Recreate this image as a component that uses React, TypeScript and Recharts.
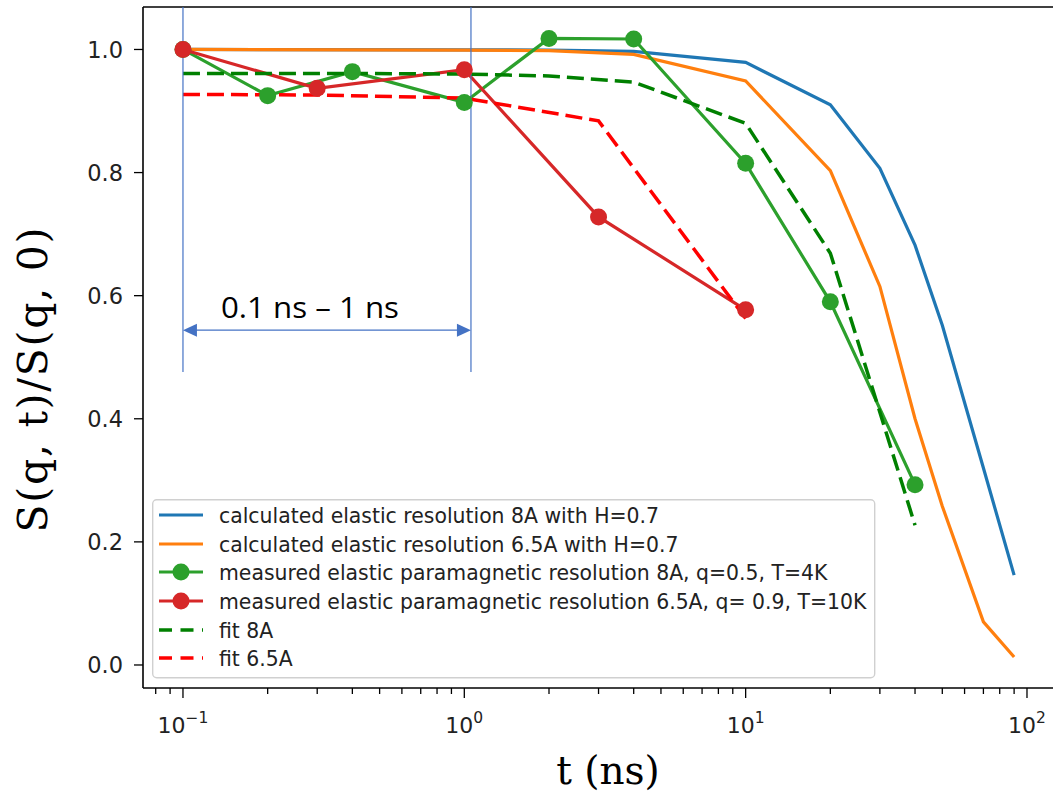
import React from 'react';
import { LineChart, Line, XAxis, YAxis, ReferenceLine, Legend } from 'recharts';

// ---- data ----
const T_CALC = [0.1, 1, 2, 4, 10, 20, 30, 40, 50, 70, 90];
const CALC_8A = [1.0, 0.9995, 0.999, 0.997, 0.979, 0.91, 0.807, 0.682, 0.552, 0.32, 0.146];
const CALC_65A = [1.0, 0.999, 0.998, 0.992, 0.949, 0.803, 0.615, 0.4, 0.258, 0.07, 0.013];

const T_MEAS_8A = [0.1, 0.2, 0.4, 1, 2, 4, 10, 20, 40];
const MEAS_8A = [1.0, 0.925, 0.964, 0.914, 1.018, 1.017, 0.815, 0.59, 0.293];
const FIT_8A = [0.961, 0.961, 0.961, 0.96, 0.957, 0.947, 0.88, 0.669, 0.227];

const T_MEAS_65A = [0.1, 0.3, 1, 3, 10];
const MEAS_65A = [1.0, 0.937, 0.967, 0.728, 0.577];
const FIT_65A = [0.927, 0.926, 0.921, 0.884, 0.563];

const X_DOMAIN = [0.0721, 126.8];
const Y_DOMAIN = [-0.0374, 1.069];
const X_MAJOR = [0.1, 1, 10, 100];
const X_MINOR = [0.08, 0.09, 0.2, 0.3, 0.4, 0.5, 0.6, 0.7, 0.8, 0.9, 2, 3, 4, 5, 6, 7, 8, 9, 20, 30, 40, 50, 60, 70, 80, 90];
const X_EXPONENTS = ['\u22121', '0', '1', '2'];
const Y_TICKS = [0, 0.2, 0.4, 0.6, 0.8, 1.0];
const Y_TICK_LABELS = ['0.0', '0.2', '0.4', '0.6', '0.8', '1.0'];

const SERIES_NAMES = [
  'calculated elastic resolution 8A with H=0.7',
  'calculated elastic resolution 6.5A with H=0.7',
  'measured elastic paramagnetic resolution 8A, q=0.5, T=4K',
  'measured elastic paramagnetic resolution 6.5A, q= 0.9, T=10K',
  'fit 8A',
  'fit 6.5A',
];
const SERIES_COLORS = ['#1f77b4', '#ff7f0e', '#2ca02c', '#d62728', '#008000', '#ff0000'];

// annotation (data coordinates)
const RANGE_START = 0.1;
const RANGE_END = 1.056;
const RANGE_TOP = 1.069;
const RANGE_BOTTOM = 0.476;
const RANGE_ARROW_Y = 0.544;
const RANGE_TEXT = '0.1 ns \u2013 1 ns';

const X_LABEL = 't (ns)';
const Y_LABEL = 'S(q, t)/S(q, 0)';

const toRows = (ts: number[], vs: number[]) => ts.map((t, i) => ({ t, v: vs[i] }));

const series = [
  { data: toRows(T_CALC, CALC_8A), dashed: false, marker: false },
  { data: toRows(T_CALC, CALC_65A), dashed: false, marker: false },
  { data: toRows(T_MEAS_8A, MEAS_8A), dashed: false, marker: true },
  { data: toRows(T_MEAS_65A, MEAS_65A), dashed: false, marker: true },
  { data: toRows(T_MEAS_8A, FIT_8A), dashed: true, marker: false },
  { data: toRows(T_MEAS_65A, FIT_65A), dashed: true, marker: false },
];

const ANNOT = '#4472C4';
const TICK_FONT = 'DejaVu Sans';

const XTick = (props: any) => {
  const { x, y, payload } = props;
  const idx = X_MAJOR.indexOf(payload.value);
  const major = idx >= 0;
  return (
    <g>
      <line x1={x} x2={x} y1={y} y2={y + (major ? 10 : 6)} stroke="#000" strokeWidth={1.3} />
      {major && (
        <text x={x} y={y + 45} textAnchor="middle" fontFamily={TICK_FONT} fontSize={22} fill="#222">
          <tspan>10</tspan>
          <tspan dy={-10} fontSize={15.5}>{X_EXPONENTS[idx]}</tspan>
        </text>
      )}
    </g>
  );
};

const YTick = (props: any) => {
  const { x, y, payload } = props;
  const idx = Y_TICKS.indexOf(payload.value);
  return (
    <g>
      <line x1={x - 9} x2={x} y1={y} y2={y} stroke="#000" strokeWidth={1.3} />
      <text x={x - 20} y={y} dy="0.36em" textAnchor="end" fontFamily={TICK_FONT} fontSize={22.5} fill="#222">
        {Y_TICK_LABELS[idx]}
      </text>
    </g>
  );
};

const ArrowShape = (p: any) => {
  const { x1, y1, x2, y2 } = p;
  const L = 14;
  const W = 6.5;
  return (
    <g>
      <line x1={x1 + L - 1} y1={y1} x2={x2 - L + 1} y2={y2} stroke={ANNOT} strokeWidth={1.3} />
      <polygon points={`${x1},${y1} ${x1 + L},${y1 - W} ${x1 + L},${y1 + W}`} fill={ANNOT} />
      <polygon points={`${x2},${y2} ${x2 - L},${y2 - W} ${x2 - L},${y2 + W}`} fill={ANNOT} />
      <text
        x={(x1 + x2) / 2 - 17}
        y={y1 - 12}
        textAnchor="middle"
        fontFamily="Open Sans"
        fontSize={30}
        textLength={178}
        lengthAdjust="spacingAndGlyphs"
        fill="#000"
      >
        {RANGE_TEXT}
      </text>
    </g>
  );
};

const renderLegend = () => {
  const rowY = [16, 45, 73, 102, 131, 159];
  return (
    <svg width={724} height={180} style={{ display: 'block' }}>
      <rect x={0.7} y={0.7} width={722} height={178} rx={4} ry={4} fill="#fff" fillOpacity={0.85} stroke="#d0d0d0" strokeWidth={1.4} />
      {SERIES_NAMES.map((name, i) => {
        const s = series[i];
        const c = SERIES_COLORS[i];
        const y = rowY[i];
        return (
          <g key={name}>
            {s.dashed ? (
              <line x1={7} x2={51} y1={y} y2={y} stroke={c} strokeWidth={3.5} strokeDasharray="13 8.5" />
            ) : (
              <line x1={7} x2={51} y1={y} y2={y} stroke={c} strokeWidth={3.2} />
            )}
            {s.marker && <circle cx={29} cy={y} r={8.5} fill={c} />}
            <text x={67} y={y + 8} fontFamily={TICK_FONT} fontSize={20.4} fill="#222">
              {name}
            </text>
          </g>
        );
      })}
    </svg>
  );
};

const XLabel = () => (
  <text x={608} y={784} textAnchor="middle" fontFamily="DejaVu Serif" fontSize={39} fill="#000">
    {X_LABEL}
  </text>
);

const YLabel = () => (
  <text
    x={33}
    y={380}
    transform="rotate(-90, 33, 380)"
    textAnchor="middle"
    dominantBaseline="central"
    fontFamily="DejaVu Serif"
    fontSize={41}
    textLength={305}
    lengthAdjust="spacing"
    fill="#000"
  >
    {Y_LABEL}
  </text>
);

export default function App() {
  return (
    <div style={{ position: 'fixed', left: 0, top: 0, width: 1053, height: 793, overflow: 'hidden', background: '#fff' }}>
      <LineChart width={1070} height={793} margin={{ top: 7, right: 14, bottom: 45, left: 63 }}>
        <XAxis
          dataKey="t"
          type="number"
          scale="log"
          domain={X_DOMAIN}
          allowDataOverflow
          ticks={[...X_MAJOR, ...X_MINOR].sort((a, b) => a - b)}
          interval={0}
          tickSize={0}
          tickMargin={0}
          tickLine={false}
          tick={<XTick />}
          axisLine={{ stroke: '#000', strokeWidth: 1.6 }}
          height={60}
          label={XLabel}
        />
        <YAxis
          type="number"
          domain={Y_DOMAIN}
          allowDataOverflow
          ticks={Y_TICKS}
          interval={0}
          tickSize={0}
          tickMargin={0}
          tickLine={false}
          tick={<YTick />}
          axisLine={{ stroke: '#000', strokeWidth: 1.6 }}
          width={80}
          label={YLabel}
        />
        <ReferenceLine y={Y_DOMAIN[1]} stroke="#000" strokeWidth={1.6} ifOverflow="visible" />
        <ReferenceLine x={X_DOMAIN[1]} stroke="#000" strokeWidth={1.6} ifOverflow="visible" />
        {series.map((s, i) => (
          <Line
            key={SERIES_NAMES[i]}
            data={s.data}
            dataKey="v"
            name={SERIES_NAMES[i]}
            type="linear"
            stroke={SERIES_COLORS[i]}
            strokeWidth={s.dashed ? 3.5 : 3.2}
            strokeDasharray={s.dashed ? '17 7' : undefined}
            dot={s.marker ? { r: 8.5, fill: SERIES_COLORS[i], stroke: SERIES_COLORS[i], strokeWidth: 0 } : false}
            activeDot={false}
            isAnimationActive={false}
            legendType="line"
          />
        ))}
        <ReferenceLine
          segment={[{ x: RANGE_START, y: RANGE_TOP }, { x: RANGE_START, y: RANGE_BOTTOM }]}
          stroke={ANNOT}
          strokeWidth={1.2}
          ifOverflow="visible"
        />
        <ReferenceLine
          segment={[{ x: RANGE_END, y: RANGE_TOP }, { x: RANGE_END, y: RANGE_BOTTOM }]}
          stroke={ANNOT}
          strokeWidth={1.2}
          ifOverflow="visible"
        />
        <ReferenceLine
          segment={[{ x: RANGE_START, y: RANGE_ARROW_Y }, { x: RANGE_END, y: RANGE_ARROW_Y }]}
          ifOverflow="visible"
          shape={ArrowShape}
        />
        <Legend
          layout="horizontal"
          verticalAlign="middle"
          align="center"
          content={renderLegend}
          wrapperStyle={{ left: 152, top: 499, width: 724, height: 180, margin: 0, padding: 0, lineHeight: 0 }}
        />
      </LineChart>
    </div>
  );
}
